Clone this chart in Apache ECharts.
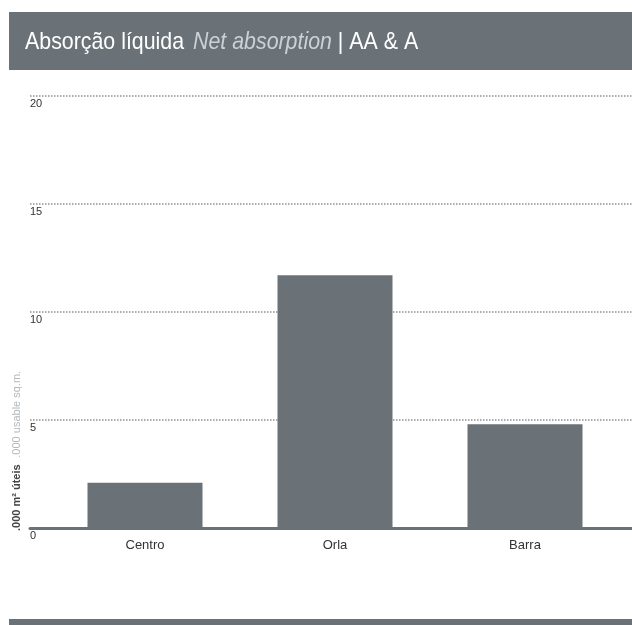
<!DOCTYPE html>
<html>
<head>
<meta charset="utf-8">
<script src="https://cdn.jsdelivr.net/npm/echarts@6/dist/echarts.min.js"></script>
<style>html,body{margin:0;padding:0;background:#fff;}#c{width:632px;height:625px;}</style>
</head>
<body>
<div id="c"></div>
<script>
const categories = ['Centro', 'Orla', 'Barra'];
const netAbsorption = [2.1, 11.7, 4.8];
const yTicks = [0, 5, 10, 15, 20];

const FONT = '"Liberation Sans Narrow", "Arial Narrow", "Liberation Sans", sans-serif';
const GREY = '#6a7278';
const chart = echarts.init(document.getElementById('c'), null, {renderer: 'canvas'});
const gridTop = 96, gridBottom = 625 - 528;
chart.setOption({
  animation: false,
  backgroundColor: '#ffffff',
  grid: [
    {left: 30, right: 0, top: gridTop, bottom: gridBottom},
    {left: 50, right: 12, top: gridTop, bottom: gridBottom}
  ],
  xAxis: [
    {gridIndex: 0, type: 'category', data: categories, axisLabel: {show: false}, axisTick: {show: false},
     axisLine: {show: true, lineStyle: {color: GREY, width: 3}}, splitLine: {show: false}},
    {gridIndex: 1, type: 'category', data: categories, axisTick: {show: false}, axisLine: {show: false},
     axisLabel: {color: '#333', fontFamily: FONT, fontSize: 13, margin: 11}}
  ],
  yAxis: [
    {gridIndex: 0, type: 'value', min: yTicks[0], max: yTicks[yTicks.length - 1], interval: 5,
     axisLine: {show: false}, axisTick: {show: false},
     axisLabel: {inside: true, margin: 0, align: 'left', verticalAlign: 'top', padding: [2, 0, 0, 0],
       color: '#333', fontFamily: FONT, fontSize: 11,
       formatter: v => yTicks.includes(v) ? String(v) : ''},
     splitLine: {show: true, lineStyle: {color: '#8f8f8f', width: 1.5, type: [1.5, 1.5]}}},
    {gridIndex: 1, type: 'value', min: yTicks[0], max: yTicks[yTicks.length - 1], interval: 5,
     show: false, splitLine: {show: false}}
  ],
  series: [
    {type: 'bar', xAxisIndex: 1, yAxisIndex: 1, data: netAbsorption, barWidth: 115,
     itemStyle: {color: GREY}, z: 1}
  ],
  graphic: [
    {type: 'rect', left: 9, top: 12, shape: {width: 623, height: 58}, style: {fill: GREY}, silent: true},
    {type: 'rect', left: 9, top: 619, shape: {width: 623, height: 6}, style: {fill: GREY}, silent: true},
    {type: 'text', x: 25, y: 42, scaleX: 0.89, silent: true,
     style: {text: '{a|Absorção líquida}   {b|Net absorption}{a| | AA & A}', verticalAlign: 'middle',
       rich: {
         a: {fill: '#ffffff', fontFamily: FONT, fontSize: 24},
         b: {fill: '#cdd1d4', fontFamily: FONT, fontSize: 24, fontStyle: 'italic'}
       }}},
    {type: 'text', x: 17, y: 531, rotation: Math.PI / 2, silent: true,
     style: {text: '{a|.000 m² úteis}  {b|.000 usable sq.m.}', align: 'left', verticalAlign: 'middle',
       rich: {
         a: {fill: '#444', fontFamily: FONT, fontSize: 11, fontWeight: 'bold'},
         b: {fill: '#b3b8bc', fontFamily: FONT, fontSize: 11}
       }}}
  ]
});
</script>
</body>
</html>
